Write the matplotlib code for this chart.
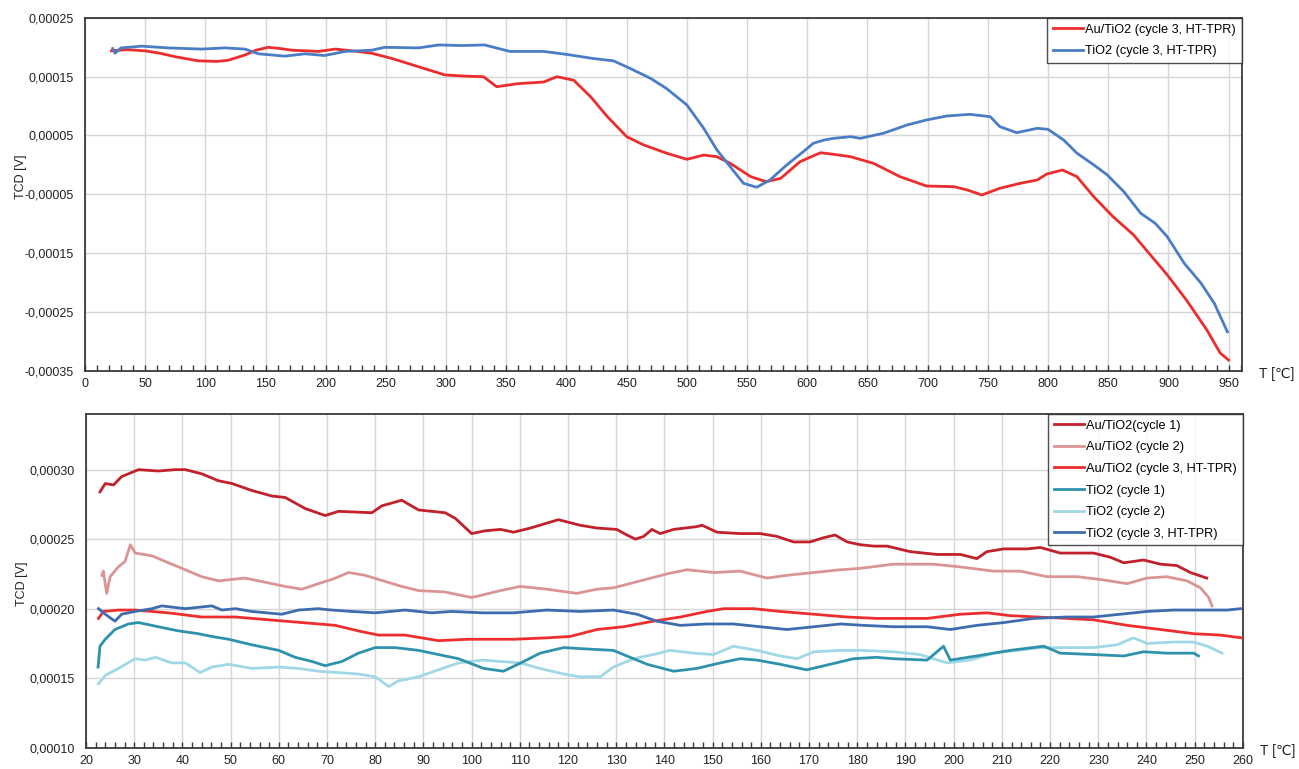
import matplotlib
matplotlib.use("Agg")
import matplotlib.pyplot as plt
from matplotlib.ticker import FixedLocator, MultipleLocator, FuncFormatter

plt.rcParams['font.family'] = ['Liberation Sans', 'DejaVu Sans']

# ---------------- top panel data (T in °C, TCD in V) ----------------
top_au_T = [22, 35, 50, 62, 75, 94, 110, 119, 133, 142, 152, 162, 172, 184, 194, 208, 222, 238,
            255, 277, 299, 316, 331, 342, 359, 381, 392, 406, 420, 434, 450, 464, 483, 500,
            514, 525, 536, 553, 566, 578, 594, 611, 622, 636, 655, 677, 699, 722, 733, 745,
            760, 777, 791, 799, 812, 824, 838, 854, 871, 885, 899, 915, 932, 943, 950]
top_au_V = [0.000194, 0.000196, 0.000194, 0.00019, 0.000184, 0.000177, 0.000176, 0.000178, 0.000187,
            0.000195, 0.0002, 0.000198, 0.000195, 0.000194, 0.000193, 0.000197, 0.000194, 0.00019,
            0.000181, 0.000167, 0.000153, 0.000151, 0.000150, 0.000133, 0.000138, 0.000141, 0.00015,
            0.000144, 0.000116, 0.000082, 0.000048, 0.000034, 0.00002, 0.0000095,
            0.0000167, 0.0000139, 0.0000027, -0.00002, -0.0000286, -0.0000228, 0.0000055, 0.0000207,
            0.000018, 0.0000139, 0.0000027, -0.00002, -0.0000359, -0.0000371, -0.0000427, -0.0000512,
            -0.0000398, -0.0000313, -0.0000257, -0.0000155, -0.0000087, -0.00002, -0.0000541,
            -0.0000881, -0.000119, -0.000153, -0.000187, -0.00023, -0.000281, -0.00032, -0.000332]

top_ti_T = [23, 25, 30, 47, 69, 97, 116, 133, 144, 166, 183, 199, 216, 238, 249, 277, 294, 313,
            332, 353, 381, 400, 422, 439, 453, 470, 483, 500, 514, 525, 536, 547, 558, 569,
            583, 597, 605, 614, 622, 636, 644, 663, 683, 699, 716, 735, 752, 760, 774, 791,
            800, 813, 824, 838, 849, 863, 877, 889, 899, 913, 927, 938, 949]
top_ti_V = [0.000198, 0.00019, 0.000199, 0.000202, 0.000199, 0.000197, 0.000199, 0.000197, 0.000189,
            0.000185, 0.000189, 0.000186, 0.000193, 0.000195, 0.0002, 0.000199, 0.000204, 0.000203,
            0.000204, 0.000193, 0.000193, 0.000188, 0.000181, 0.000177, 0.000164, 0.000147, 0.00013,
            0.000102, 0.0000622, 0.0000253, -0.0000031, -0.0000313, -0.0000381, -0.0000257,
            0.0, 0.000023, 0.0000367, 0.0000423, 0.0000452, 0.000048, 0.0000452, 0.0000537,
            0.0000679, 0.0000764, 0.0000832, 0.000086, 0.000082, 0.000065, 0.0000548, 0.0000622,
            0.0000605, 0.0000423, 0.00002, 0.0, -0.0000167, -0.0000456, -0.0000823, -0.0000993,
            -0.000122, -0.000167, -0.000201, -0.000235, -0.000284]

# ---------------- bottom panel data ----------------
au1_T = [22.9, 24, 25.7, 27.4, 30.9, 35, 38.5, 40.6, 44, 47.5, 50.3, 54.4, 58.6, 61.3, 65.5, 69.6,
         72.4, 79.3, 81.4, 85.5, 89, 94.5, 96.6, 100, 102.8, 106, 108.7, 112.2, 118, 122.5, 126,
         130.1, 132.2, 134, 135.7, 137.4, 139.1, 141.9, 146.7, 147.8, 150.9, 155.7, 159.9, 163.3,
         166.8, 170.2, 173, 175.4, 177.9, 180.6, 183.4, 186.2, 191, 196.5, 201.4, 204.8, 206.9,
         210.4, 215.2, 218, 222.1, 229, 232.5, 235.3, 239.4, 242.9, 246.3, 249.1, 252.5]
au1_V = [0.000284, 0.00029, 0.000289, 0.000295, 0.0003, 0.000299, 0.0003, 0.0003, 0.000297, 0.000292,
         0.00029, 0.000285, 0.000281, 0.00028, 0.000272, 0.000267, 0.00027, 0.000269, 0.000274,
         0.000278, 0.000271, 0.000269, 0.000265, 0.000254, 0.000256, 0.000257, 0.000255, 0.000258,
         0.000264, 0.00026, 0.000258, 0.000257, 0.000253, 0.00025, 0.000252, 0.000257, 0.000254,
         0.000257, 0.000259, 0.00026, 0.000255, 0.000254, 0.000254, 0.000252, 0.000248, 0.000248,
         0.000251, 0.000253, 0.000248, 0.000246, 0.000245, 0.000245, 0.000241, 0.000239, 0.000239,
         0.000236, 0.000241, 0.000243, 0.000243, 0.000244, 0.00024, 0.00024, 0.000237, 0.000233,
         0.000235, 0.000232, 0.000231, 0.000226, 0.000222]

au2_T = [23.3, 23.6, 24.3, 25, 26.7, 28.1, 29.2, 30.2, 33.7, 37.1, 40.6, 44, 47.5, 53, 57.2, 61.3,
         64.8, 68.2, 71, 74.5, 77.9, 80.7, 85.5, 89, 94.5, 100, 106, 110.1, 115.6, 121.8, 126,
         129.4, 135, 140.5, 144.7, 150.2, 155.7, 161.3, 165.4, 171, 176.5, 180.6, 187.5, 195.8,
         201.4, 208.3, 213.8, 219.4, 225.6, 230.4, 236, 240.1, 244.2, 248.4, 251.2, 252.9, 253.6]
au2_V = [0.000224, 0.000227, 0.000211, 0.000223, 0.00023, 0.000234, 0.000246, 0.00024, 0.000238,
         0.000233, 0.000228, 0.000223, 0.00022, 0.000222, 0.000219, 0.000216, 0.000214, 0.000218,
         0.000221, 0.000226, 0.000224, 0.000221, 0.000216, 0.000213, 0.000212, 0.000208, 0.000213,
         0.000216, 0.000214, 0.000211, 0.000214, 0.000215, 0.00022, 0.000225, 0.000228, 0.000226,
         0.000227, 0.000222, 0.000224, 0.000226, 0.000228, 0.000229, 0.000232, 0.000232, 0.00023,
         0.000227, 0.000227, 0.000223, 0.000223, 0.000221, 0.000218, 0.000222, 0.000223, 0.00022,
         0.000215, 0.000208, 0.000202]

au3_T = [22.6, 23.6, 26.7, 30.2, 37.1, 44, 51, 57.9, 64.8, 71.7, 76.5, 80.7, 86.2, 93.1, 99.4,
         108.7, 115.6, 120.4, 126, 131.5, 137.7, 143.3, 148.8, 152.3, 158.5, 164, 171, 177.9,
         184, 194.5, 201.4, 206.9, 211.7, 217.3, 223.5, 229, 236, 242.9, 249.8, 255.3, 259.8]
au3_V = [0.000193, 0.000198, 0.000199, 0.000199, 0.000197, 0.000194, 0.000194, 0.000192, 0.00019,
         0.000188, 0.000184, 0.000181, 0.000181, 0.000177, 0.000178, 0.000178, 0.000179, 0.00018,
         0.000185, 0.000187, 0.000191, 0.000194, 0.000198, 0.0002, 0.0002, 0.000198, 0.000196,
         0.000194, 0.000193, 0.000193, 0.000196, 0.000197, 0.000195, 0.000194, 0.000193, 0.000192,
         0.000188, 0.000185, 0.000182, 0.000181, 0.000179]

ti1_T = [22.5, 22.9, 24, 26, 28.8, 30.9, 35, 39.2, 43.3, 46.1, 49.6, 54.4, 60, 63.4, 66.9, 69.6,
         73.1, 76.5, 80, 84.1, 89, 93.1, 97.3, 102.5, 106.6, 110.8, 114.2, 119.1, 123.9, 129.4,
         132.9, 136.4, 141.9, 146.7, 151.6, 155.7, 159.2, 164, 169.5, 174.4, 179.2, 184, 187.5,
         194.5, 197.9, 199.3, 204.8, 211.7, 218.7, 222.1, 229, 235.3, 239.4, 244.2, 249.8, 250.8]
ti1_V = [0.000158, 0.000173, 0.000178, 0.000185, 0.000189, 0.00019, 0.000187, 0.000184, 0.000182,
         0.00018, 0.000178, 0.000174, 0.00017, 0.000165, 0.000162, 0.000159, 0.000162, 0.000168,
         0.000172, 0.000172, 0.00017, 0.000167, 0.000164, 0.000157, 0.000155, 0.000162, 0.000168,
         0.000172, 0.000171, 0.00017, 0.000165, 0.00016, 0.000155, 0.000157, 0.000161, 0.000164,
         0.000163, 0.00016, 0.000156, 0.00016, 0.000164, 0.000165, 0.000164, 0.000163, 0.000173,
         0.000163, 0.000166, 0.00017, 0.000173, 0.000168, 0.000167, 0.000166, 0.000169, 0.000168,
         0.000168, 0.000166]

ti2_T = [22.6, 24, 26.7, 30.2, 32.3, 34.4, 37.8, 40.6, 43.7, 46.1, 49.6, 54.4, 60, 64.1, 68.2,
         72.4, 76.5, 80, 82.8, 84.8, 89, 93.1, 97.3, 102.3, 106, 110.1, 114.2, 119.1, 122.5, 126.7,
         129.4, 133.6, 137.7, 141.2, 146, 150.2, 154.3, 159.2, 164, 167.5, 171, 176.5, 181,
         187.5, 193, 198.6, 203.4, 208.3, 213.1, 218, 223.5, 229, 233.9, 237.3, 240.1, 245.6,
         249.8, 252.6, 255.7]
ti2_V = [0.000146, 0.000152, 0.000157, 0.000164, 0.000163, 0.000165, 0.000161, 0.000161, 0.000154,
         0.000158, 0.00016, 0.000157, 0.000158, 0.000157, 0.000155, 0.000154, 0.000153, 0.000151,
         0.000144, 0.000148, 0.000151, 0.000156, 0.000161, 0.000163, 0.000162, 0.000161, 0.000157,
         0.000153, 0.000151, 0.000151, 0.000158, 0.000164, 0.000167, 0.00017, 0.000168, 0.000167,
         0.000173, 0.00017, 0.000166, 0.000164, 0.000169, 0.00017, 0.00017, 0.000169, 0.000167,
         0.000161, 0.000163, 0.000168, 0.00017, 0.000172, 0.000172, 0.000172, 0.000174, 0.000179,
         0.000175, 0.000176, 0.000176, 0.000173, 0.000168]

ti3_T = [22.6, 24, 26, 27.4, 30.2, 33.7, 35.7, 40.6, 46.1, 48.2, 51, 54.4, 60.6, 64.1, 68.2, 71,
         75.2, 80, 86.2, 91.7, 95.9, 102.3, 108.7, 115.6, 122.5, 129.4, 134.3, 138.4, 143.3,
         148.8, 154.3, 159.9, 165.4, 171, 176.5, 181.3, 187.5, 194.5, 199.3, 204.8, 210.4, 216.6,
         223.5, 229, 234.6, 240.1, 245.6, 251.2, 256.7, 259.5]
ti3_V = [0.0002, 0.000196, 0.000191, 0.000196, 0.000198, 0.0002, 0.000202, 0.0002, 0.000202,
         0.000199, 0.0002, 0.000198, 0.000196, 0.000199, 0.0002, 0.000199, 0.000198, 0.000197,
         0.000199, 0.000197, 0.000198, 0.000197, 0.000197, 0.000199, 0.000198, 0.000199, 0.000196,
         0.000191, 0.000188, 0.000189, 0.000189, 0.000187, 0.000185, 0.000187, 0.000189, 0.000188,
         0.000187, 0.000187, 0.000185, 0.000188, 0.00019, 0.000193, 0.000194, 0.000194, 0.000196,
         0.000198, 0.000199, 0.000199, 0.000199, 0.0002]

top_labels = ['Au/TiO2 (cycle 3, HT-TPR)', 'TiO2 (cycle 3, HT-TPR)']
bottom_labels = ['Au/TiO2(cycle 1)', 'Au/TiO2 (cycle 2)', 'Au/TiO2 (cycle 3, HT-TPR)',
                 'TiO2 (cycle 1)', 'TiO2 (cycle 2)', 'TiO2 (cycle 3, HT-TPR)']
top_yticks = [-0.00035, -0.00025, -0.00015, -0.00005, 0.00005, 0.00015, 0.00025]
bottom_yticks = [0.0001, 0.00015, 0.0002, 0.00025, 0.0003]

# ---------------- plotting ----------------
fig = plt.figure(figsize=(12.99, 7.69), dpi=100)
ax1 = fig.add_axes([0.0654, 0.518, 0.8906, 0.4587])
ax2 = fig.add_axes([0.0662, 0.0277, 0.8906, 0.4339])

fmt = FuncFormatter(lambda v, p: f"{v:.5f}".replace('.', ','))
spine_c = '#3a3a3a'
grid_c = '#d6d6d6'
lw = 2.0

ax1.plot(top_au_T, top_au_V, color='#EC2D2D', lw=lw, label=top_labels[0], zorder=3)
ax1.plot(top_ti_T, top_ti_V, color='#4A7DC6', lw=lw, label=top_labels[1], zorder=3)
ax1.set_xlim(0, 961)
ax1.set_ylim(-0.00035, 0.00025)
ax1.xaxis.set_major_locator(MultipleLocator(50))
ax1.xaxis.set_minor_locator(MultipleLocator(10))
ax1.yaxis.set_major_locator(FixedLocator(top_yticks))

colors2 = ['#C2202A', '#DA9495', '#EE2E2E', '#2F92AC', '#A0D8E5', '#3E6CAE']
series2 = [(au1_T, au1_V), (au2_T, au2_V), (au3_T, au3_V), (ti1_T, ti1_V), (ti2_T, ti2_V), (ti3_T, ti3_V)]
order = [1, 0, 4, 3, 2, 5]
handles = [None] * 6
for i in order:
    T, V = series2[i]
    h, = ax2.plot(T, V, color=colors2[i], lw=lw, label=bottom_labels[i], zorder=3)
    handles[i] = h
ax2.set_xlim(20, 260)
ax2.set_ylim(0.0001, 0.00034)
ax2.xaxis.set_major_locator(MultipleLocator(10))
ax2.xaxis.set_minor_locator(MultipleLocator(2))
ax2.yaxis.set_major_locator(FixedLocator(bottom_yticks))

for ax in (ax1, ax2):
    ax.yaxis.set_major_formatter(fmt)
    ax.grid(True, which='major', color=grid_c, lw=1.0, zorder=0)
    ax.set_axisbelow(True)
    for s in ax.spines.values():
        s.set_color(spine_c)
        s.set_linewidth(1.3)
    ax.tick_params(axis='x', which='major', direction='in', length=4, width=1, colors=spine_c,
                   labelsize=9, labelcolor='#222222', pad=5)
    ax.tick_params(axis='x', which='minor', direction='in', length=4, width=1, colors=spine_c)
    ax.tick_params(axis='y', which='major', length=0, labelsize=9, labelcolor='#222222', pad=8)
    ax.set_ylabel('TCD [V]', fontsize=9, color='#222222')

ax1.yaxis.set_label_coords(-0.050, 0.55)
ax2.yaxis.set_label_coords(-0.050, 0.49)

ax1.text(1.0145, -0.01, 'T [\u2103]', transform=ax1.transAxes, fontsize=10, color='#222222',
         ha='left', va='center')
ax2.text(1.0145, -0.01, 'T [\u2103]', transform=ax2.transAxes, fontsize=10, color='#222222',
         ha='left', va='center')

leg_kw = dict(loc='upper right', borderaxespad=0.0, fontsize=9.2, frameon=True, fancybox=False,
              handlelength=2.4, handletextpad=0.15, labelspacing=0.75, borderpad=0.45)
l1 = ax1.legend(**leg_kw)
l2 = ax2.legend(handles=handles, **leg_kw)
for l in (l1, l2):
    f = l.get_frame()
    f.set_edgecolor('#222222')
    f.set_linewidth(1.0)
    for ln in l.get_lines():
        ln.set_linewidth(2.0)

fig.savefig('out.png', dpi=100)
